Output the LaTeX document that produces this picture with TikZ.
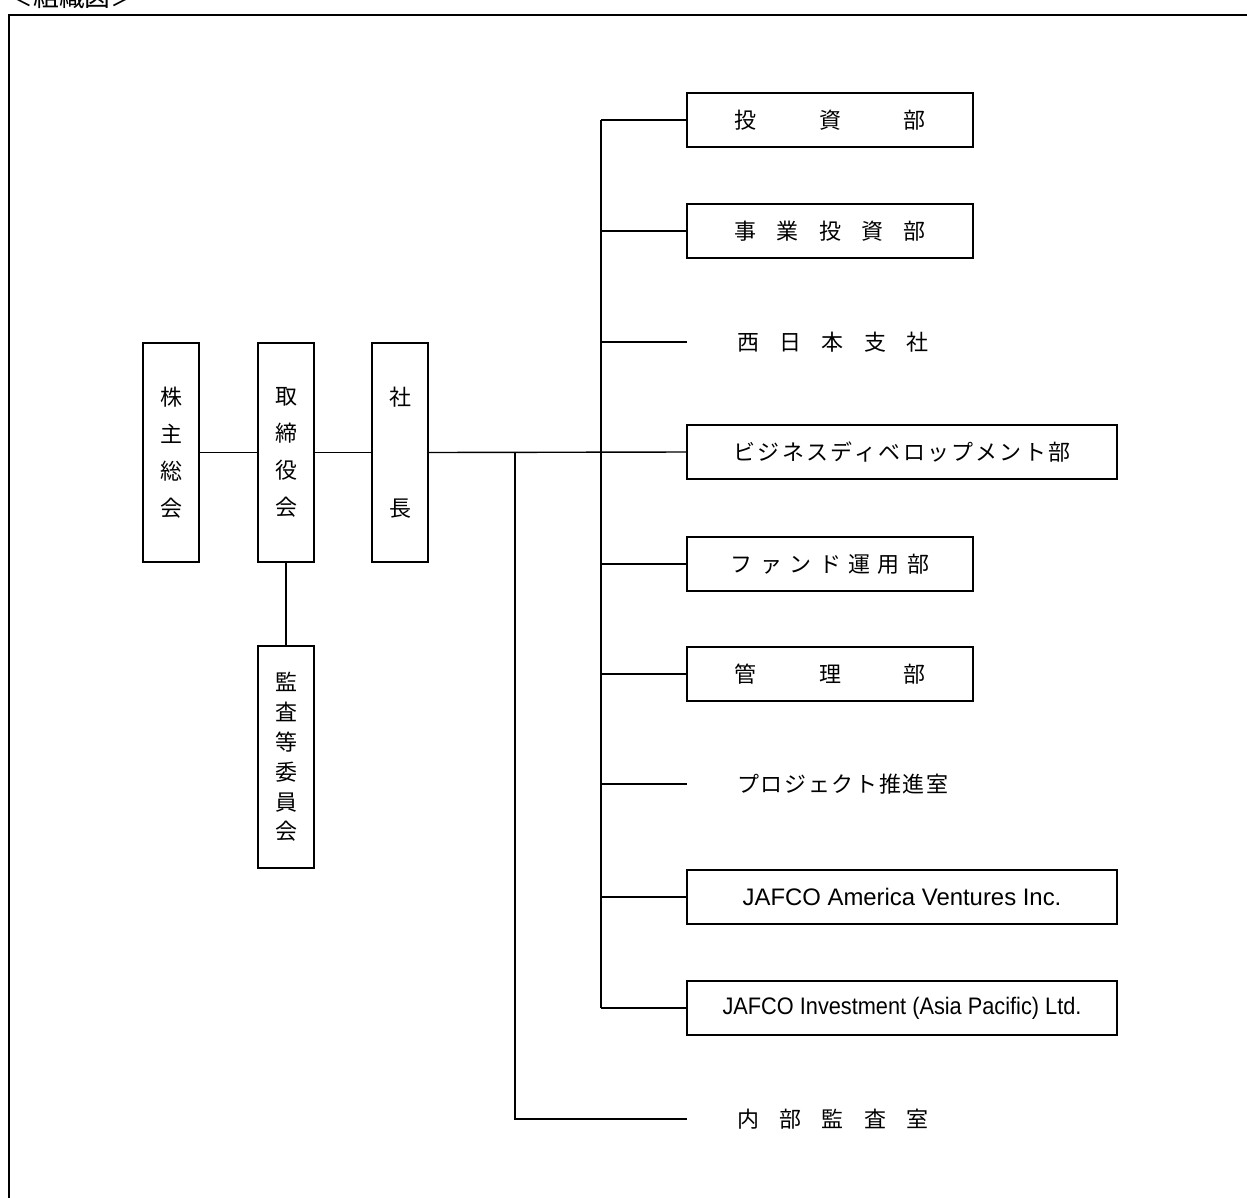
\documentclass[tikz,border=0pt]{standalone}
\usepackage{fontspec}
\setmainfont{Noto Sans CJK JP}
\newfontfamily\arial{Liberation Sans}
\newlength{\chgap}
\newcommand{\spread}[2]{\mbox{\setlength{\chgap}{#1}\spreadnext#2\relax}}
\def\spreadnext#1{#1\futurelet\spreadtok\spreadmore}
\def\spreadmore{\ifx\spreadtok\relax\expandafter\spreadstop\else\hspace{\chgap}\expandafter\spreadnext\fi}
\def\spreadstop\relax{}

\begin{document}
\begin{tikzpicture}[x=0.02cm, y=-0.02cm,
  font=\fontsize{12.5}{15}\selectfont,
  vbox/.style={draw, line width=1.1pt, minimum width=1.12cm, minimum height=4.38cm,
               align=center, inner sep=0pt, font=\fontsize{12.5}{21}\selectfont},
  box/.style={draw, line width=1.1pt, minimum width=5.72cm, minimum height=1.08cm, inner sep=0pt},
  wbox/.style={box, minimum width=8.6cm},
  en/.style={font=\arial\fontsize{13.6}{16}\selectfont},
  plain/.style={minimum width=5.72cm, minimum height=1.08cm, inner sep=0pt,
                text width=3.72cm, align=left},
  ln/.style={line width=0.8pt}]
  \clip (0,0) rectangle (1247,1197);
  \useasboundingbox (0,0) rectangle (1247,1197);
  % frame and title (cut off by the page)
  \node[font=\fontsize{14.7}{17}\selectfont, inner sep=0pt] (title) at (72,-3.5) {＜組織図＞};
  \draw[line width=1.7pt] (9,1250) -- (9,15) -- (1300,15);
  % left column
  \node[vbox] (kabu)  at (171,452.5) {株\\主\\総\\会};
  \node[vbox] (tori)  at (286,452.5) {取\\締\\役\\会};
  \node[vbox] (pres)  at (400,452.5) {社\\[42pt]長};
  \node[vbox, minimum height=4.44cm, font=\fontsize{12.5}{17}\selectfont] (audit) at (286,757)
    {監\\査\\等\\委\\員\\会};
  \draw[ln] (kabu.east) -- (tori.west);
  \draw[ln] (tori.east) -- (pres.west);
  \draw[ln] (tori.south) -- (audit.north);
  % departments
  \node[box]  (inv)   at (830,120)  {\spread{1.26cm}{投資部}};
  \node[box]  (biz)   at (830,231)  {\spread{0.41cm}{事業投資部}};
  \node[plain] (west) at (830,342)  {\spread{0.41cm}{西日本支社}};
  \node[wbox] (dev)   at (902,452)  {\spread{0.045cm}{ビジネスディベロップメント部}};
  \node[box]  (fund)  at (830,564)  {\spread{0.15cm}{ファンド運用部}};
  \node[box]  (admin) at (830,674)  {\spread{1.26cm}{管理部}};
  \node[plain] (proj) at (830,784)  {\spread{0.035cm}{プロジェクト推進室}};
  \node[wbox, en] (jav) at (902,897) {JAFCO America Ventures Inc.};
  \node[wbox, en] (jip) at (902,1008) {\scalebox{0.91}[1]{JAFCO Investment (Asia Pacific) Ltd.}};
  \node[plain] (iaud) at (830,1119) {\spread{0.41cm}{内部監査室}};
  \coordinate (trunk) at (601,452);
  \coordinate (sub)   at (515,452);
  \draw[ln] (pres.east) -- (dev.west);
  \draw[line width=0.7pt] (trunk |- inv.west) -- (trunk |- jip.west);
  \foreach \d in {inv, biz, west, fund, admin, proj, jav, jip}
    \draw[ln] (trunk |- \d.west) -- (\d.west);
  \draw[line width=1.1pt] (sub) -- (sub |- iaud.west) -- (iaud.west);
\end{tikzpicture}
\end{document}
